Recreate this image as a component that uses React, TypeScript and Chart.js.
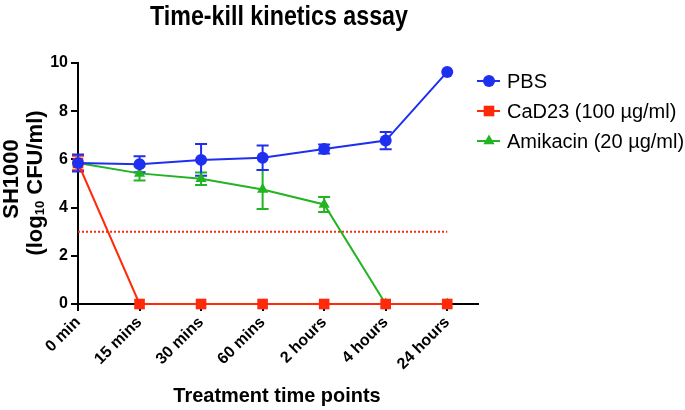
import React, { useEffect, useRef } from "react";
import { Chart, registerables } from "chart.js";

Chart.register(...registerables);

const timeLabels = ["0 min", "15 mins", "30 mins", "60 mins", "2 hours", "4 hours", "24 hours"];
const pbsValues = [5.85, 5.8, 5.98, 6.07, 6.43, 6.78, 9.63];
const pbsErrors = [0.35, 0.33, 0.66, 0.51, 0.19, 0.36, 0];
const cad23Values = [5.85, 0, 0, 0, 0, 0, 0];
const cad23Errors = [0.3, 0, 0, 0, 0, 0, 0];
const amikacinValues = [5.85, 5.42, 5.2, 4.75, 4.13, 0, 0];
const amikacinErrors = [0, 0.3, 0.26, 0.81, 0.31, 0, 0];
const thresholdValue = 3;
const thresholdRange = [0, 6];
const yTicks = [0, 2, 4, 6, 8, 10];

const seriesNames = ["PBS", "CaD23 (100 µg/ml)", "Amikacin (20 µg/ml)"];
const BLUE = "#1f2ff0";
const RED = "#ff2a0a";
const GREEN = "#22b422";
const FONT = "'Liberation Sans', Arial, Helvetica, sans-serif";

const toPoints = (vals: number[]) => vals.map((v, i) => ({ x: i, y: v }));

function drawMarker(ctx: CanvasRenderingContext2D, style: string, x: number, y: number, r: number, color: string) {
  ctx.save();
  ctx.fillStyle = color;
  ctx.beginPath();
  if (style === "circle") {
    ctx.arc(x, y, r, 0, Math.PI * 2);
  } else if (style === "rect") {
    const s = r * Math.SQRT1_2;
    ctx.rect(x - s, y - s, s * 2, s * 2);
  } else {
    const h = r * 1.5;
    ctx.moveTo(x, y - r);
    ctx.lineTo(x + h / Math.sqrt(3), y + r / 2);
    ctx.lineTo(x - h / Math.sqrt(3), y + r / 2);
    ctx.closePath();
  }
  ctx.fill();
  ctx.restore();
}

const errorBarPlugin = {
  id: "errorBars",
  beforeDatasetsDraw(chart: any) {
    const { ctx, scales } = chart;
    const xs = scales.x;
    const ys = scales.y;
    const sets = [
      { vals: amikacinValues, errs: amikacinErrors, color: GREEN },
      { vals: cad23Values, errs: cad23Errors, color: RED },
      { vals: pbsValues, errs: pbsErrors, color: BLUE },
    ];
    ctx.save();
    ctx.lineWidth = 2;
    sets.forEach((s) => {
      ctx.strokeStyle = s.color;
      s.vals.forEach((v, i) => {
        const e = s.errs[i];
        if (!e) return;
        const px = xs.getPixelForValue(i);
        const top = ys.getPixelForValue(v + e);
        const bot = ys.getPixelForValue(v - e);
        ctx.beginPath();
        ctx.moveTo(px, top);
        ctx.lineTo(px, bot);
        ctx.moveTo(px - 6, top);
        ctx.lineTo(px + 6, top);
        ctx.moveTo(px - 6, bot);
        ctx.lineTo(px + 6, bot);
        ctx.stroke();
      });
    });
    ctx.restore();
  },
};

const textPlugin = {
  id: "customText",
  afterDraw(chart: any) {
    const { ctx, chartArea } = chart;
    const cx = (chartArea.left + chartArea.right) / 2;
    ctx.save();
    ctx.fillStyle = "#000";
    // Title (slightly condensed, as in the reference)
    ctx.save();
    ctx.translate(cx + 1, 17);
    ctx.scale(0.83, 1);
    ctx.font = `bold 28px ${FONT}`;
    ctx.textAlign = "center";
    ctx.textBaseline = "middle";
    ctx.fillText("Time-kill kinetics assay", 0, 0);
    ctx.restore();
    // X axis title
    ctx.save();
    ctx.translate(cx - 1, 396);
    ctx.scale(0.95, 1);
    ctx.font = `bold 21px ${FONT}`;
    ctx.textAlign = "center";
    ctx.textBaseline = "middle";
    ctx.fillText("Treatment time points", 0, 0);
    ctx.restore();
    // Y axis title
    ctx.textBaseline = "middle";
    ctx.save();
    ctx.translate(12, 179);
    ctx.rotate(-Math.PI / 2);
    ctx.font = `bold 22px ${FONT}`;
    ctx.textAlign = "center";
    ctx.fillText("SH1000", 0, 0);
    ctx.restore();
    ctx.save();
    ctx.translate(36, 183);
    ctx.rotate(-Math.PI / 2);
    ctx.textAlign = "left";
    const big = `bold 22px ${FONT}`;
    const small = `bold 13px ${FONT}`;
    ctx.font = big;
    const w1 = ctx.measureText("(log").width;
    const w3 = ctx.measureText(" CFU/ml)").width;
    ctx.font = small;
    const w2 = ctx.measureText("10").width;
    const total = w1 + w2 + w3;
    let x = -total / 2;
    ctx.font = big;
    ctx.fillText("(log", x, 0);
    x += w1;
    ctx.font = small;
    ctx.fillText("10", x, 4);
    x += w2;
    ctx.font = big;
    ctx.fillText(" CFU/ml)", x, 0);
    ctx.restore();
    // Legend
    const legend = [
      { name: seriesNames[0], color: BLUE, style: "circle", r: 6 },
      { name: seriesNames[1], color: RED, style: "rect", r: 7.5 },
      { name: seriesNames[2], color: GREEN, style: "triangle", r: 6.5 },
    ];
    const rows = [81, 111, 141];
    ctx.font = `20px ${FONT}`;
    ctx.textAlign = "left";
    ctx.textBaseline = "middle";
    legend.forEach((l, i) => {
      const y = rows[i];
      ctx.strokeStyle = l.color;
      ctx.lineWidth = 2;
      ctx.beginPath();
      ctx.moveTo(477, y);
      ctx.lineTo(500, y);
      ctx.stroke();
      drawMarker(ctx, l.style, 489, y, l.r, l.color);
      ctx.fillStyle = "#000";
      ctx.fillText(l.name, 507, y + 1);
    });
    ctx.restore();
  },
};

export default function App() {
  const ref = useRef<HTMLCanvasElement | null>(null);
  useEffect(() => {
    document.body.style.margin = "0";
    if (!ref.current) return;
    const chart = new Chart(ref.current, {
      type: "line",
      data: {
        datasets: [
          {
            label: seriesNames[0],
            data: toPoints(pbsValues),
            borderColor: BLUE,
            backgroundColor: BLUE,
            borderWidth: 2,
            pointStyle: "circle",
            pointRadius: 6,
            pointBorderWidth: 0,
            clip: false,
          } as any,
          {
            label: seriesNames[1],
            data: toPoints(cad23Values),
            borderColor: RED,
            backgroundColor: RED,
            borderWidth: 2,
            pointStyle: "rect",
            pointRadius: 7.5,
            pointBorderWidth: 0,
            clip: false,
          },
          {
            label: seriesNames[2],
            data: toPoints(amikacinValues),
            borderColor: GREEN,
            backgroundColor: GREEN,
            borderWidth: 2,
            pointStyle: "triangle",
            pointRadius: 6.5,
            pointBorderWidth: 0,
            clip: false,
          },
          {
            label: "threshold",
            data: thresholdRange.map((x) => ({ x, y: thresholdValue })),
            borderColor: RED,
            borderWidth: 2,
            borderDash: [2, 2],
            pointRadius: 0,
            clip: false,
          },
        ],
      },
      options: {
        animation: false,
        responsive: false,
        devicePixelRatio: 1,
        layout: { padding: { top: 63, right: 207, left: 0, bottom: 0 } },
        plugins: {
          legend: { display: false },
          title: { display: false },
          tooltip: { enabled: false },
        },
        scales: {
          x: {
            type: "linear",
            min: 0,
            max: 6.5,
            afterBuildTicks: (s: any) => {
              s.ticks = timeLabels.map((_, i) => ({ value: i }));
            },
            afterFit: (s: any) => {
              s.height = 106;
            },
            ticks: {
              callback: (v: any) => timeLabels[v] ?? "",
              minRotation: 45,
              maxRotation: 45,
              color: "#000",
              font: { family: FONT, size: 16, weight: "bold" },
              padding: 2,
            },
            grid: { drawOnChartArea: false, drawTicks: true, tickLength: 7, color: "#000", lineWidth: 2 },
            border: { display: true, color: "#000", width: 2 },
          },
          y: {
            min: 0,
            max: 10,
            afterBuildTicks: (s: any) => {
              s.ticks = yTicks.map((v) => ({ value: v }));
            },
            afterFit: (s: any) => {
              s.width = 78;
            },
            ticks: {
              color: "#000",
              font: { family: FONT, size: 16, weight: "bold" },
              padding: 3,
            },
            grid: { drawOnChartArea: false, drawTicks: true, tickLength: 7, color: "#000", lineWidth: 2 },
            border: { display: true, color: "#000", width: 2 },
          },
        },
      },
      plugins: [errorBarPlugin, textPlugin],
    } as any);
    return () => chart.destroy();
  }, []);
  return (
    <div style={{ width: 685, height: 410 }}>
      <canvas ref={ref} width={685} height={410} style={{ display: "block" }} />
    </div>
  );
}
